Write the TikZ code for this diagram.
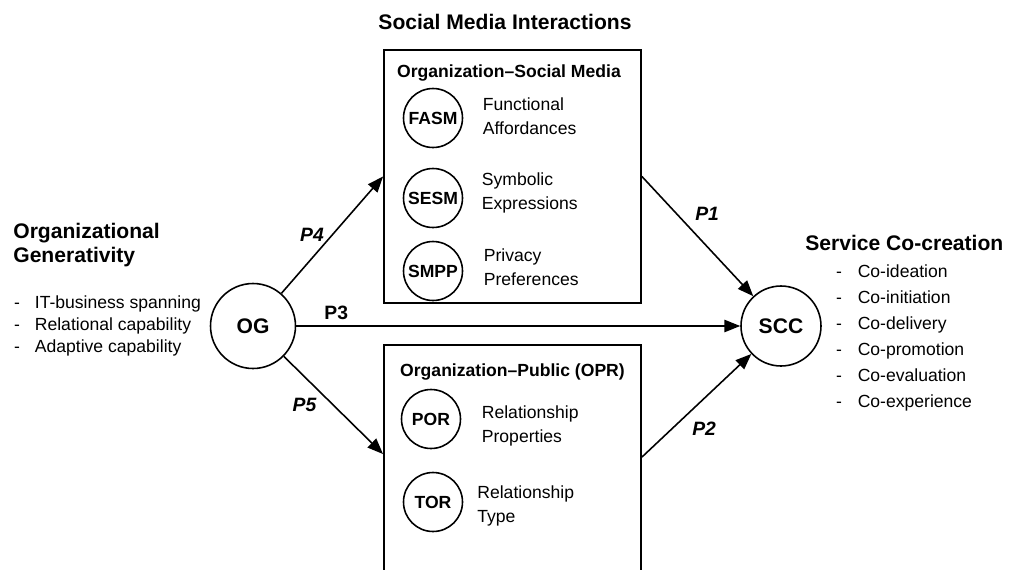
\documentclass[tikz,border=0pt]{standalone}
\usepackage{fontspec}
\setmainfont{Liberation Sans}
\usetikzlibrary{positioning, arrows.meta, calc}

\begin{document}
\begin{tikzpicture}[
        x=0.02cm, y=-0.02cm,
        grp/.style={
            draw, line width=1.1pt, inner sep=0pt,
            minimum width=5.14cm
        },
        grptitle/.style={font=\bfseries\fontsize{10}{12}\selectfont},
        cons/.style={
            circle, draw, line width=0.9pt, inner sep=0pt,
            minimum size=1.18cm,
            font=\bfseries\fontsize{10}{12}\selectfont
        },
        hub/.style={cons, minimum size=1.7cm,
            font=\bfseries\fontsize{12}{14}\selectfont},
        dlbl/.style={font=\fontsize{10}{13.6}\selectfont,
            align=left, inner sep=1pt},
        head/.style={font=\bfseries\fontsize{12}{13.6}\selectfont,
            align=left, inner sep=0pt},
        plbl/.style={font=\bfseries\itshape\fontsize{11}{13}\selectfont},
        link/.style={-{Triangle[length=9pt, width=7pt]}, line width=0.9pt}
    ]

    \useasboundingbox (0,0) rectangle (1015,569);

    % Social media box
    \node[grp, minimum height=5.06cm] (smbox) at (512.5,176.5) {};
    \node[head, above=0.38cm of smbox, xshift=-0.15cm] (smi)
        {Social Media Interactions};
    \node[grptitle, below=0.18cm of smbox.north, xshift=-0.07cm] (smtitle)
        {Organization–Social Media};

    \node[cons] (fasm) at (433,118) {FASM};
    \node[dlbl, right=0.35cm of fasm, yshift=0.04cm] (fasmtxt)
        {Functional\\Affordances};

    \node[cons] (sesm) at (433,198) {SESM};
    \node[dlbl, right=0.33cm of sesm, yshift=0.1cm] (sesmtxt)
        {Symbolic\\Expressions};

    \node[cons] (smpp) at (433,271) {SMPP};
    \node[dlbl, right=0.37cm of smpp, yshift=0.08cm] (smpptxt)
        {Privacy\\Preferences};

    % Organization-public box
    \node[grp, minimum height=5.1cm] (opr) at (512.5,472.5) {};
    \node[grptitle, below=0.26cm of opr.north] (oprtitle)
        {Organization–Public (OPR)};

    \node[cons] (por) at (431,419) {POR};
    \node[dlbl, right=0.37cm of por, yshift=-0.14cm] (portxt)
        {Relationship\\Properties};

    \node[cons] (tor) at (433,502) {TOR};
    \node[dlbl, right=0.24cm of tor, yshift=-0.08cm] (tortxt)
        {Relationship\\Type};

    \coordinate (oprin) at ($(opr.north west)+(0,110)$);
    \coordinate (oprout) at ($(opr.north east)+(0,113)$);

    % Organizational generativity
    \node[hub] (og) at (253,326) {OG};
    \node[head, anchor=north west] (ogtitle) at (13,223)
        {Organizational\\Generativity};
    \node[dlbl, font=\fontsize{10}{12.5}\selectfont, anchor=north west]
        (ogitems) at (12,294)
        {-\hspace{8.5pt}IT-business spanning\\
         -\hspace{8.5pt}Relational capability\\
         -\hspace{8.5pt}Adaptive capability};

    % Service co-creation
    \node[hub, minimum size=1.6cm] (scc) at (781,326) {SCC};
    \node[head, anchor=west] (scctitle) at (805,243) {Service Co-creation};
    \node[dlbl, font=\fontsize{10}{14.8}\selectfont, anchor=north west]
        (sccitems) at (834,263)
        {-\hspace{9pt}Co-ideation\\
         -\hspace{9pt}Co-initiation\\
         -\hspace{9pt}Co-delivery\\
         -\hspace{9pt}Co-promotion\\
         -\hspace{9pt}Co-evaluation\\
         -\hspace{9pt}Co-experience};

    % Propositions
    \draw[link] (og) -- node[plbl, left=1pt] {P4} (smbox.west);
    \draw[link] (og) -- node[plbl, left=6pt] {P5} (oprin);
    \draw[link] (og) -- node[plbl, font=\bfseries\fontsize{11}{13}\selectfont,
        pos=0.09, above] {P3} (scc);
    \draw[link] (smbox.east) -- node[plbl, pos=0.42, above right=0pt] {P1} (scc);
    \draw[link] (oprout) -- node[plbl, pos=0.4, below right=0pt] {P2} (scc);

\end{tikzpicture}
\end{document}
